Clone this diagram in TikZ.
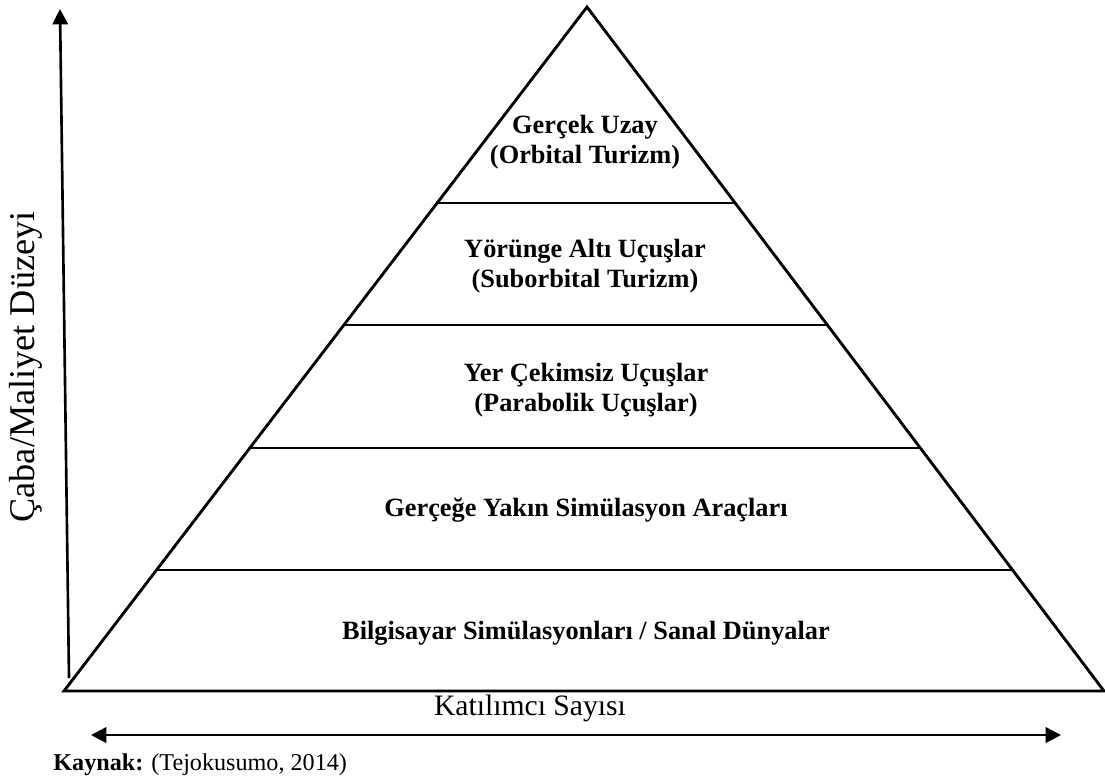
\documentclass[tikz,border=0pt]{standalone}
\usepackage{fontspec}
\setmainfont{Liberation Serif}
\usetikzlibrary{arrows.meta, calc}

\begin{document}
\begin{tikzpicture}[
  x=0.016cm, y=-0.016cm,
  font=\fontsize{12}{13.5}\selectfont,
  every node/.style={align=center},
  %% ─── styles ───────────────────────────────────────────────
  edge/.style={line width=1.3pt, line join=miter},
  axis/.style={line width=1.2pt, -{Triangle[length=7pt, width=7pt]}},
  dblaxis/.style={line width=1.2pt, {Triangle[length=7pt, width=7pt]}-{Triangle[length=7pt, width=7pt]}},
  level/.style={font=\fontsize{12}{13.5}\selectfont\bfseries}
]
  \useasboundingbox (0,0) rectangle (1105,778);

  %% ─── 1. pyramid corners ───────────────────────────────────
  \coordinate (apex) at (587, 7);
  \coordinate (bl) at (64, 691);
  \coordinate (br) at (1104, 691);

  \draw[edge] (bl) -- (apex) -- (br) -- cycle;

  % level boundaries
  \foreach \t in {0.1769, 0.3553, 0.5351, 0.7135}
    \draw[edge] ($(bl)!\t!(apex)$) -- ($(br)!\t!(apex)$);

  %% ─── 2. level labels ──────────────────────────────────────
  \node[level] (orbital) at (585, 142) {Gerçek Uzay\\(Orbital Turizm)};
  \node[level] (suborbital) at (585, 266) {Yörünge Altı Uçuşlar\\(Suborbital Turizm)};
  \node[level] (parabolic) at (586, 390) {Yer Çekimsiz Uçuşlar\\(Parabolik Uçuşlar)};
  \node[level] (simulator) at (586, 510) {Gerçeğe Yakın Simülasyon Araçları};
  \node[level] (virtual) at (586, 633) {Bilgisayar Simülasyonları / Sanal Dünyalar};

  %% ─── 3. axes ──────────────────────────────────────────────
  \coordinate (ybot) at (69, 678);
  \coordinate (ytop) at (60, 9);
  \draw[axis] (ybot) -- (ytop);
  \node[rotate=90, font=\fontsize{16.5}{18}\selectfont] (ylab) at (26, 367) {Çaba/Maliyet Düzeyi};

  \coordinate (xleft) at (91, 735);
  \coordinate (xright) at (1061, 735);
  \draw[dblaxis] (xleft) -- (xright);
  \node[font=\fontsize{13.5}{15}\selectfont] (xlab) at (530, 708) {Katılımcı Sayısı};

  %% ─── 4. source ────────────────────────────────────────────
  \node[anchor=west, inner xsep=0pt, font=\fontsize{11}{13}\selectfont] (source) at (53, 765) {\textbf{Kaynak:} (Tejokusumo, 2014)};

\end{tikzpicture}
\end{document}
